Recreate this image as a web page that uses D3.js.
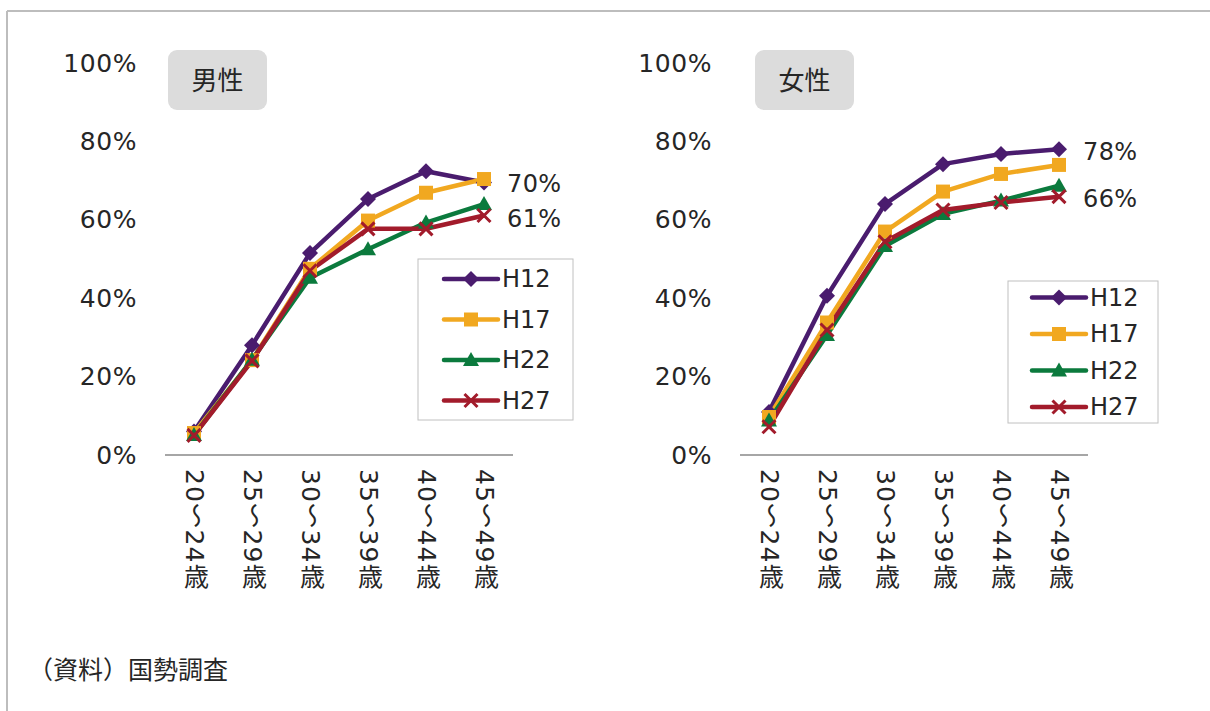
<!DOCTYPE html>
<html>
<head>
<meta charset="utf-8">
<script src="https://cdn.jsdelivr.net/npm/d3@7"></script>
<style>
  html, body { margin: 0; padding: 0; background: #fff; }
  svg { display: block; }
  text { font-family: "DejaVu Sans", "Noto Sans CJK JP", sans-serif; fill: #262626; }
</style>
</head>
<body>
<svg id="chart" width="1210" height="711"></svg>
<script>
const categories = ["20～24歳", "25～29歳", "30～34歳", "35～39歳", "40～44歳", "45～49歳"];
const seriesNames = ["H12", "H17", "H22", "H27"];
const seriesColors = ["#4a1c6e", "#f1a820", "#0b7a3d", "#a21b2b"];
const seriesMarkers = ["diamond", "square", "triangle", "x"];
const yTicks = [0, 20, 40, 60, 80, 100];

// 男性
const maleH12 = [6, 28, 51.5, 65.3, 72.4, 69.5];
const maleH17 = [5.6, 24.2, 47.5, 59.8, 66.9, 70.4];
const maleH22 = [5.1, 24.3, 45.2, 52.5, 59.3, 64];
const maleH27 = [5, 24, 47, 57.7, 57.7, 61.1];
const maleLabels = [{text: "70%", value: 70}, {text: "61%", value: 61}];

// 女性
const femaleH12 = [11, 40.6, 64, 74.2, 76.8, 78];
const femaleH17 = [9.7, 33.8, 57, 67.2, 71.7, 74];
const femaleH22 = [8.8, 30.6, 53.3, 61.5, 64.9, 68.7];
const femaleH27 = [7.2, 31.9, 54.4, 62.5, 64.4, 65.9];
const femaleLabels = [{text: "78%", value: 78}, {text: "66%", value: 66}];

const svg = d3.select("#chart");

// outer frame (top & left)
svg.append("line").attr("x1", 7).attr("y1", 11).attr("x2", 1210).attr("y2", 11)
  .attr("stroke", "#bdbdbd").attr("stroke-width", 2);
svg.append("line").attr("x1", 7).attr("y1", 11).attr("x2", 7).attr("y2", 711)
  .attr("stroke", "#bdbdbd").attr("stroke-width", 2);

function markerPath(type, r) {
  if (type === "diamond") return `M0,${-r}L${r},0L0,${r}L${-r},0Z`;
  if (type === "square") return `M${-r},${-r}H${r}V${r}H${-r}Z`;
  if (type === "triangle") return `M0,${-r}L${r},${r*0.75}L${-r},${r*0.75}Z`;
  return `M${-r},${-r}L${r},${r}M${r},${-r}L${-r},${r}`;
}
function drawMarker(g, type, color, x, y) {
  const r = {diamond: 8, square: 7, triangle: 8, x: 6.5}[type];
  const p = g.append("path").attr("d", markerPath(type, r))
    .attr("transform", `translate(${x},${y})`);
  if (type === "x") p.attr("fill", "none").attr("stroke", color).attr("stroke-width", 3);
  else p.attr("fill", color);
}

function drawPanel(opt) {
  const g = svg.append("g");
  const x = d3.scalePoint().domain(categories).range([opt.x0, opt.x1]).padding(0.5);
  const y = d3.scaleLinear().domain([0, 100]).range([455, 63]);

  // y tick labels
  g.selectAll(".ytick").data(yTicks).enter().append("text")
    .attr("x", opt.labelX).attr("y", d => y(d))
    .attr("text-anchor", "end").attr("dominant-baseline", "central")
    .style("font-size", "25px").style("letter-spacing", "0.6px").text(d => d + "%");

  // x axis line
  g.append("line").attr("x1", opt.x0).attr("x2", opt.x1)
    .attr("y1", y(0)).attr("y2", y(0)).attr("stroke", "#a6a6a6").attr("stroke-width", 2);

  // x tick labels (vertical)
  g.selectAll(".xtick").data(categories).enter().append("text")
    .attr("x", d => x(d)).attr("y", 469)
    .style("writing-mode", "vertical-rl")
    .style("font-size", "25px").style("letter-spacing", "1.2px")
    .text(d => d);

  // title box
  g.append("rect").attr("x", opt.titleX).attr("y", 50).attr("width", 99).attr("height", 60)
    .attr("rx", 9).attr("fill", "#dcdcdc");
  g.append("text").attr("x", opt.titleX + 49.5).attr("y", 81)
    .attr("text-anchor", "middle").attr("dominant-baseline", "central")
    .style("font-size", "26px").text(opt.title);

  // lines
  const line = d3.line().x((d, i) => x(categories[i])).y(d => y(d));
  opt.series.forEach((vals, si) => {
    g.append("path").datum(vals).attr("d", line)
      .attr("fill", "none").attr("stroke", seriesColors[si]).attr("stroke-width", 4.5)
      .attr("stroke-linejoin", "round");
  });
  opt.series.forEach((vals, si) => {
    vals.forEach((v, i) => drawMarker(g, seriesMarkers[si], seriesColors[si], x(categories[i]), y(v)));
  });

  // value labels
  g.selectAll(".vlabel").data(opt.labels).enter().append("text")
    .attr("x", opt.valueLabelX).attr("y", d => y(d.value) + 3)
    .attr("dominant-baseline", "central")
    .style("font-size", "24px").style("letter-spacing", "0.4px").text(d => d.text);

  // legend
  const L = opt.legend;
  g.append("rect").attr("x", L.x).attr("y", L.y).attr("width", L.w).attr("height", L.h)
    .attr("fill", "#fff").attr("stroke", "#c0c0c0").attr("stroke-width", 1);
  seriesNames.forEach((name, si) => {
    const yy = L.firstY + si * L.step;
    g.append("line").attr("x1", L.lx0).attr("x2", L.lx1).attr("y1", yy).attr("y2", yy)
      .attr("stroke", seriesColors[si]).attr("stroke-width", 4.5).attr("stroke-linecap", "round");
    drawMarker(g, seriesMarkers[si], seriesColors[si], (L.lx0 + L.lx1) / 2, yy);
    g.append("text").attr("x", L.lx1 + 4).attr("y", yy).attr("dominant-baseline", "central")
      .style("font-size", "24px").text(name);
  });
}

drawPanel({
  title: "男性", x0: 165, x1: 513, labelX: 137, titleX: 168, valueLabelX: 507,
  series: [maleH12, maleH17, maleH22, maleH27], labels: maleLabels,
  legend: {x: 418, y: 259, w: 155, h: 161, firstY: 279, step: 40.5, lx0: 444, lx1: 498}
});
drawPanel({
  title: "女性", x0: 740, x1: 1088, labelX: 712, titleX: 755, valueLabelX: 1083,
  series: [femaleH12, femaleH17, femaleH22, femaleH27], labels: femaleLabels,
  legend: {x: 1008, y: 281, w: 150, h: 142, firstY: 297.5, step: 36.5, lx0: 1032, lx1: 1086}
});

svg.append("text").attr("x", 28).attr("y", 670).attr("dominant-baseline", "central")
  .style("font-size", "25px").text("（資料）国勢調査");
</script>
</body>
</html>
